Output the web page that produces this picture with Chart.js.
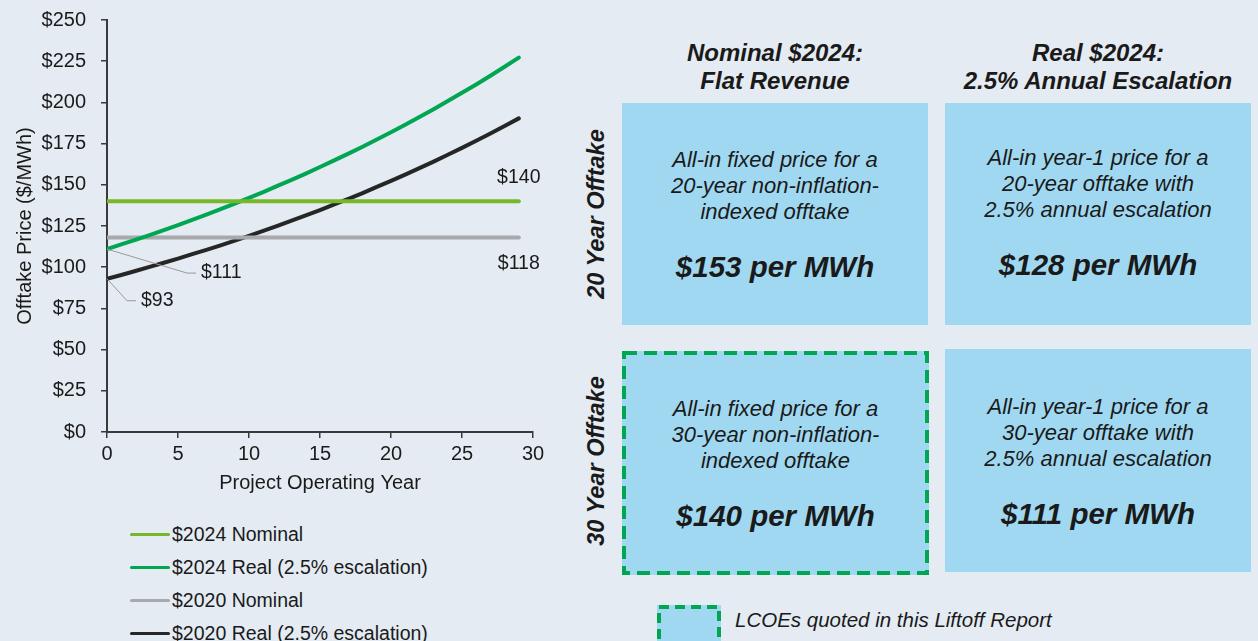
<!DOCTYPE html>
<html>
<head>
<meta charset="utf-8">
<script src="https://cdn.jsdelivr.net/npm/chart.js@4.4.1/dist/chart.umd.min.js"></script>
<style>
  html, body { margin: 0; padding: 0; }
  body {
    width: 1258px; height: 641px; overflow: hidden; position: relative;
    background: #E4EBF2; font-family: "Liberation Sans", Arial, sans-serif; color: #1a1a1a;
  }
  #chartWrap { position: absolute; left: 0; top: 0; width: 560px; height: 500px; }
  #legend { position: absolute; left: 130px; top: 518px; }
  .leg-item { height: 33px; display: flex; align-items: center; font-size: 19.5px; white-space: nowrap; }
  .leg-line { width: 40px; height: 3px; margin-right: 2px; border-radius: 2px; }
  .hdr { position: absolute; width: 340px; text-align: center; font-weight: bold; font-style: italic;
         font-size: 24px; line-height: 28px; }
  .rowlbl { position: absolute; width: 200px; height: 28px; line-height: 28px; text-align: center;
            font-weight: bold; font-style: italic; font-size: 23.5px; transform: rotate(-90deg); }
  .box { position: absolute; background: #A0D8F1; text-align: center; font-style: italic; }
  .box .txt { font-size: 22px; line-height: 26px; margin-top: 44px; }
  .box .price { font-size: 29.5px; font-weight: bold; line-height: 34px; margin-top: 25px; }
  .box svg { position: absolute; left: 0; top: 0; }
  #keyText { position: absolute; left: 735px; top: 608px; font-size: 20.5px; font-style: italic; line-height: 24px; }
</style>
</head>
<body>
<div id="chartWrap"><canvas id="chart" width="560" height="500"></canvas></div>
<div id="legend"></div>

<div class="hdr" style="left:605px; top:39px;">Nominal $2024:<br>Flat Revenue</div>
<div class="hdr" style="left:928px; top:39px;">Real $2024:<br>2.5% Annual Escalation</div>
<div class="rowlbl" style="left:496px; top:200px;">20 Year Offtake</div>
<div class="rowlbl" style="left:496px; top:447px;">30 Year Offtake</div>

<div class="box" style="left:622px; top:103px; width:306px; height:222px;">
  <div class="txt">All-in fixed price for a<br>20-year non-inflation-<br>indexed offtake</div>
  <div class="price">$153 per MWh</div>
</div>
<div class="box" style="left:945px; top:103px; width:306px; height:222px;">
  <div class="txt" style="margin-top:42px;">All-in year-1 price for a<br>20-year offtake with<br>2.5% annual escalation</div>
  <div class="price">$128 per MWh</div>
</div>
<div class="box" style="left:622px; top:351px; width:307px; height:224px;">
  <svg width="307" height="224"><rect x="2" y="2" width="303" height="220" fill="none" stroke="#00A651" stroke-width="4" stroke-dasharray="13 7"/></svg>
  <div class="txt" style="margin-top:45px;">All-in fixed price for a<br>30-year non-inflation-<br>indexed offtake</div>
  <div class="price">$140 per MWh</div>
</div>
<div class="box" style="left:945px; top:349px; width:306px; height:223px;">
  <div class="txt" style="margin-top:45px;">All-in year-1 price for a<br>30-year offtake with<br>2.5% annual escalation</div>
  <div class="price">$111 per MWh</div>
</div>

<div class="box" style="left:657px; top:605px; width:64px; height:40px;">
  <svg width="64" height="40"><rect x="2" y="2" width="60" height="36" fill="none" stroke="#00A651" stroke-width="4" stroke-dasharray="10 6"/></svg>
</div>
<div id="keyText">LCOEs quoted in this Liftoff Report</div>

<script>
// project operating years
const years = [0, 1, 2, 3, 4, 5, 6, 7, 8, 9, 10, 11, 12, 13, 14, 15, 16, 17, 18, 19,
  20, 21, 22, 23, 24, 25, 26, 27, 28, 29]
const flatYears = [0, 29]

// offtake prices, $/MWh
const nominal2024 = [140, 140]
const real2024 = [111, 113.8, 116.6, 119.5, 122.5, 125.6, 128.7, 131.9, 135.2, 138.6,
  142.1, 145.6, 149.3, 153.0, 156.8, 160.8, 164.8, 168.9, 173.1, 177.5,
  181.9, 186.4, 191.1, 195.9, 200.8, 205.8, 210.9, 216.2, 221.6, 227.2]
const nominal2020 = [118, 118]
const real2020 = [93, 95.3, 97.7, 100.2, 102.7, 105.2, 107.9, 110.5, 113.3, 116.1,
  119.0, 122.0, 125.1, 128.2, 131.4, 134.7, 138.1, 141.5, 145.0, 148.7,
  152.4, 156.2, 160.1, 164.1, 168.2, 172.4, 176.7, 181.1, 185.7, 190.3]

const seriesNames = ['$2024 Nominal', '$2024 Real (2.5% escalation)', '$2020 Nominal', '$2020 Real (2.5% escalation)']
const colors = ['#77B82A', '#00A651', '#A7A9AC', '#262626']

const xTicks = [0, 5, 10, 15, 20, 25, 30]
const yTicks = [0, 25, 50, 75, 100, 125, 150, 175, 200, 225, 250]

const FONT = '"Liberation Sans", Arial, sans-serif'
const TEXT = '#1a1a1a'

function points(xs, ys) {
  return xs.map((x, i) => ({ x: x, y: ys[i] }))
}

// value call-outs, label offset from the point it names
const callouts = [
  { x: 29, y: 140, text: '$140', dx: 0, dy: -24, leader: false },
  { x: 29, y: 118, text: '$118', dx: 0, dy: 26, leader: false },
  { x: 0, y: 111, text: '$111', dx: 94, dy: 24, leader: true },
  { x: 0, y: 93, text: '$93', dx: 34, dy: 22, leader: true }
]

const calloutPlugin = {
  id: 'callouts',
  afterDatasetsDraw(chart) {
    const ctx = chart.ctx
    const xs = chart.scales.x, ys = chart.scales.y
    ctx.save()
    ctx.font = '19.5px ' + FONT
    ctx.fillStyle = TEXT
    ctx.textBaseline = 'middle'
    callouts.forEach(c => {
      const px = xs.getPixelForValue(c.x)
      const py = ys.getPixelForValue(c.y)
      if (c.leader) {
        ctx.strokeStyle = '#9a9a9a'
        ctx.lineWidth = 1
        ctx.beginPath()
        ctx.moveTo(px, py)
        ctx.lineTo(px + c.dx - 14, py + c.dy)
        ctx.lineTo(px + c.dx - 5, py + c.dy)
        ctx.stroke()
        ctx.textAlign = 'left'
      } else {
        ctx.textAlign = 'center'
      }
      ctx.fillText(c.text, px + c.dx, py + c.dy)
    })
    ctx.restore()
  }
}

const yData = [nominal2024, real2024, nominal2020, real2020]
const xData = [flatYears, years, flatYears, years]

const chart = new Chart(document.getElementById('chart').getContext('2d'), {
  type: 'line',
  data: {
    datasets: seriesNames.map((name, i) => ({
      label: name,
      data: points(xData[i], yData[i]),
      borderColor: colors[i],
      backgroundColor: colors[i],
      borderWidth: 4,
      borderCapStyle: 'round',
      pointRadius: 0,
      tension: 0,
      order: i === 2 ? 3 : i
    }))
  },
  options: {
    responsive: false,
    animation: false,
    layout: { padding: { left: 0, top: 20, right: 27, bottom: 0 } },
    plugins: { legend: { display: false }, tooltip: { enabled: false } },
    scales: {
      x: {
        type: 'linear',
        min: 0, max: 30,
        afterBuildTicks: s => { s.ticks = xTicks.map(v => ({ value: v })) },
        afterFit: s => { s.height = 68 },
        ticks: { color: TEXT, font: { family: FONT, size: 20 }, padding: 4, maxRotation: 0 },
        grid: { drawOnChartArea: false, drawTicks: true, tickLength: 6, color: '#3a3a3a', lineWidth: 1.5 },
        border: { color: '#3a3a3a', width: 2 },
        title: { display: true, text: 'Project Operating Year', color: TEXT,
          font: { family: FONT, size: 20 }, padding: { top: 0, bottom: 5 } }
      },
      y: {
        min: 0, max: 250,
        afterBuildTicks: s => { s.ticks = yTicks.map(v => ({ value: v })) },
        afterFit: s => { s.width = 107; s.paddingTop = 10; s.paddingBottom = 10 },
        ticks: { color: TEXT, font: { family: FONT, size: 20 }, padding: 15,
          callback: v => '$' + v },
        grid: { drawOnChartArea: false, drawTicks: true, tickLength: 6, color: '#3a3a3a', lineWidth: 1.5 },
        border: { color: '#3a3a3a', width: 2 },
        title: { display: true, text: 'Offtake Price ($/MWh)', color: TEXT,
          font: { family: FONT, size: 20 }, padding: { top: 13, bottom: 0 } }
      }
    }
  },
  plugins: [calloutPlugin]
})

// legend as a column under the chart
const legend = document.getElementById('legend')
chart.data.datasets.forEach(ds => {
  const item = document.createElement('div')
  item.className = 'leg-item'
  const line = document.createElement('span')
  line.className = 'leg-line'
  line.style.background = ds.borderColor
  item.appendChild(line)
  item.appendChild(document.createTextNode(ds.label))
  legend.appendChild(item)
})
</script>
</body>
</html>
